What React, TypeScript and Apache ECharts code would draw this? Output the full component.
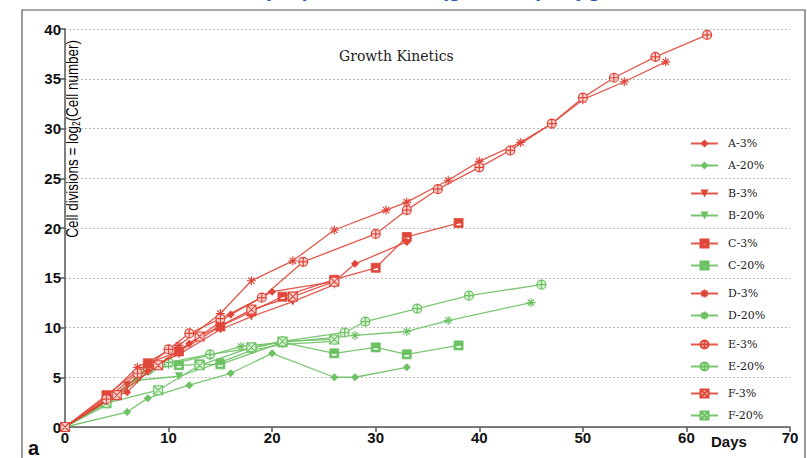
import React, { useEffect, useRef } from "react";
import * as echarts from "echarts";

const xTicks = [0, 10, 20, 30, 40, 50, 60, 70];
const groups = ["A", "B", "C", "D", "E", "F"];

const a3 = [[0,0],[4,2.7],[6,3.5],[8,5.6],[12,8.4],[16,11.3],[20,13.6],[26,14.6],[28,16.4],[33,18.6]];
const a20 = [[0,0],[6,1.5],[8,2.9],[12,4.2],[16,5.4],[20,7.4],[26,5.0],[28,5.0],[33,6.0]];
const b3 = [[0,0],[4,2.6],[6,4.2],[8,5.9],[11,7.3],[15,9.8],[18,11.1],[22,12.6],[26,14.3]];
const b20 = [[0,0],[4,2.2],[7,4.7],[11,5.1],[15,6.5],[18,7.7],[21,8.3],[26,8.6]];
const c3 = [[0,0],[4,3.2],[8,6.4],[11,7.6],[15,10.1],[18,11.6],[21,13.1],[26,14.8],[30,16.0],[33,19.1],[38,20.5]];
const c20 = [[0,0],[4,2.5],[8,5.9],[11,6.2],[13,6.3],[15,6.3],[21,8.5],[26,7.4],[30,8.0],[33,7.3],[38,8.2]];
const d3 = [[0,0],[4,3.0],[7,6.0],[11,8.2],[15,11.4],[18,14.7],[22,16.7],[26,19.8],[31,21.8],[33,22.6],[37,24.8],[40,26.7],[44,28.6],[47,30.5],[50,32.9],[54,34.7],[58,36.7]];
const d20 = [[0,0],[4,2.7],[7,4.9],[10,6.3],[14,7.2],[17,8.1],[21,8.5],[28,9.2],[33,9.6],[37,10.7],[45,12.5]];
const e3 = [[0,0],[4,2.8],[7,5.4],[10,7.8],[12,9.4],[15,10.9],[19,13.0],[23,16.6],[30,19.4],[33,21.8],[36,23.9],[40,26.1],[43,27.8],[47,30.5],[50,33.1],[53,35.1],[57,37.2],[62,39.4]];
const e20 = [[0,0],[4,2.6],[8,5.7],[10,6.5],[14,7.3],[18,7.9],[21,8.6],[27,9.5],[29,10.6],[34,11.9],[39,13.2],[46,14.3]];
const f3 = [[0,0],[5,3.2],[9,6.2],[13,9.1],[18,11.8],[22,13.1],[26,14.6]];
const f20 = [[0,0],[4,2.4],[9,3.7],[13,6.2],[18,8.0],[21,8.6],[26,8.8]];

const seriesData: Record<string, number[][]> = {
  "A-3%": a3, "A-20%": a20, "B-3%": b3, "B-20%": b20, "C-3%": c3, "C-20%": c20,
  "D-3%": d3, "D-20%": d20, "E-3%": e3, "E-20%": e20, "F-3%": f3, "F-20%": f20,
};

const RED = "#e0473a";
const RED_LIGHT = "#f8d2ce";
const GREEN = "#6cc163";
const GREEN_LIGHT = "#d8f0d4";

const SYM_C = "path://M0,0 L10,0 L10,10 L0,10 Z M2,5 L2,8 L8,8 L8,5 Z";
const SYM_D = "path://M5,0 L5,10 M0,5 L10,5 M1.5,1.5 L8.5,8.5 M8.5,1.5 L1.5,8.5";
const SYM_E = "path://M0,5 A5,5 0 1,0 10,5 A5,5 0 1,0 0,5 Z M5,0 L5,10 M0,5 L10,5";
const SYM_F = "path://M0,0 L10,0 L10,10 L0,10 Z M0,0 L10,10 M10,0 L0,10";

function styleFor(group: string, red: boolean) {
  const c = red ? RED : GREEN;
  const light = red ? RED_LIGHT : GREEN_LIGHT;
  switch (group) {
    case "A":
      return { symbol: "diamond", symbolSize: 8, symbolRotate: 0, itemStyle: { color: c } };
    case "B":
      return { symbol: "triangle", symbolSize: 8, symbolRotate: 180, itemStyle: { color: c } };
    case "C":
      return { symbol: SYM_C, symbolSize: 9, symbolRotate: 0, itemStyle: { color: c, borderColor: c, borderWidth: 0.8 } };
    case "D":
      return { symbol: SYM_D, symbolSize: 9, symbolRotate: 0, itemStyle: { color: c, borderColor: c, borderWidth: 1.2 } };
    case "E":
      return { symbol: SYM_E, symbolSize: 9, symbolRotate: 0, itemStyle: { color: light, borderColor: c, borderWidth: 1.2 } };
    default:
      return { symbol: SYM_F, symbolSize: 9, symbolRotate: 0, itemStyle: { color: light, borderColor: c, borderWidth: 1.1 } };
  }
}

export default function App() {
  const ref = useRef<HTMLDivElement>(null);
  useEffect(() => {
    document.body.style.margin = "0";
    if (!ref.current) return;
    const chart = echarts.init(ref.current, null, { renderer: "svg" });

    const series: any[] = [];
    groups.forEach((g) => {
      ["3%", "20%"].forEach((p) => {
        const name = `${g}-${p}`;
        const red = p === "3%";
        const st = styleFor(g, red);
        series.push({
          name,
          type: "line",
          data: seriesData[name],
          ...st,
          lineStyle: { color: red ? RED : GREEN, width: 1.3, opacity: 0.9 },
          z: red ? 3 : 2,
        });
      });
    });

    const legendTops = [138, 188, 238, 288, 339, 388];
    const legends = groups.map((g, i) => ({
      data: [`${g}-3%`, `${g}-20%`],
      orient: "vertical",
      left: 690,
      top: legendTops[i],
      padding: 0,
      itemWidth: 27,
      itemHeight: 10,
      itemGap: 11,
      textStyle: { fontFamily: "DejaVu Serif", fontSize: 11, color: "#222", padding: [0, 0, 0, 5] },
    }));

    chart.setOption({
      animation: false,
      backgroundColor: "#ffffff",
      title: {
        text: "Growth Kinetics",
        left: 334,
        top: 44,
        textStyle: { fontFamily: "DejaVu Serif", fontSize: 14, fontWeight: "normal", color: "#222" },
      },
      legend: legends,
      grid: { left: 65, right: 17, top: 29, bottom: 31, containLabel: false },
      xAxis: {
        type: "value",
        min: 0,
        max: 70,
        interval: 10,
        splitLine: { show: false },
        axisLine: { show: true, onZero: false, lineStyle: { color: "#555", width: 1.5 } },
        axisTick: { show: true, length: 5, lineStyle: { color: "#555", width: 1.5 } },
        axisLabel: {
          margin: 3,
          fontFamily: "Liberation Sans, Arial",
          fontWeight: "bold",
          fontSize: 15,
          color: "#111",
          formatter: (v: number) => (xTicks.includes(v) ? String(v) : ""),
        },
      },
      yAxis: {
        type: "value",
        min: 0,
        max: 40,
        interval: 5,
        axisLine: { show: true, onZero: false, lineStyle: { color: "#555", width: 1.5 } },
        axisTick: { show: true, length: 5, lineStyle: { color: "#555", width: 1.5 } },
        splitLine: { show: true, lineStyle: { color: "#bdbdbd", type: [2, 2], width: 1 } },
        axisLabel: {
          margin: 4,
          fontFamily: "Liberation Sans, Arial",
          fontWeight: "bold",
          fontSize: 15,
          color: "#111",
        },
      },
      graphic: [
        {
          type: "rect",
          shape: { x: 22, y: 10, width: 783, height: 470 },
          style: { fill: "none", stroke: "#555", lineWidth: 1.2 },
          silent: true,
          z: -1,
        },
        {
          type: "text",
          x: 420,
          y: -1,
          style: {
            text: "Low (3%) and normal (gas 20%) oxygen",
            fill: "#2a5db0",
            font: "bold 22px Liberation Sans, Arial",
            align: "center",
            verticalAlign: "bottom",
          },
        },
        {
          type: "text",
          x: 73,
          y: 40,
          rotation: Math.PI / 2,
          scaleX: 0.84,
          style: {
            text: "{a|Cell divisions = log}{s|2}{a|(Cell number)}",
            align: "right",
            verticalAlign: "middle",
            rich: {
              a: { fontFamily: "Liberation Sans, Arial", fontSize: 16, fontWeight: "normal", fill: "#000", lineHeight: 18 },
              s: { fontFamily: "Liberation Sans, Arial", fontSize: 10, fontWeight: "normal", fill: "#000", padding: [8, 0, 0, 0], lineHeight: 18 },
            },
          },
        },
        {
          type: "text",
          x: 711,
          y: 441,
          style: {
            text: "Days",
            font: "bold 15px Liberation Sans, Arial",
            fill: "#111",
            align: "left",
            verticalAlign: "middle",
          },
        },
        {
          type: "text",
          x: 28,
          y: 448,
          style: {
            text: "a",
            font: "bold 20px Liberation Sans, Arial",
            fill: "#111",
            align: "left",
            verticalAlign: "middle",
          },
        },
      ],
      series,
    });

    return () => chart.dispose();
  }, []);

  return <div ref={ref} style={{ width: 807, height: 458 }} />;
}
